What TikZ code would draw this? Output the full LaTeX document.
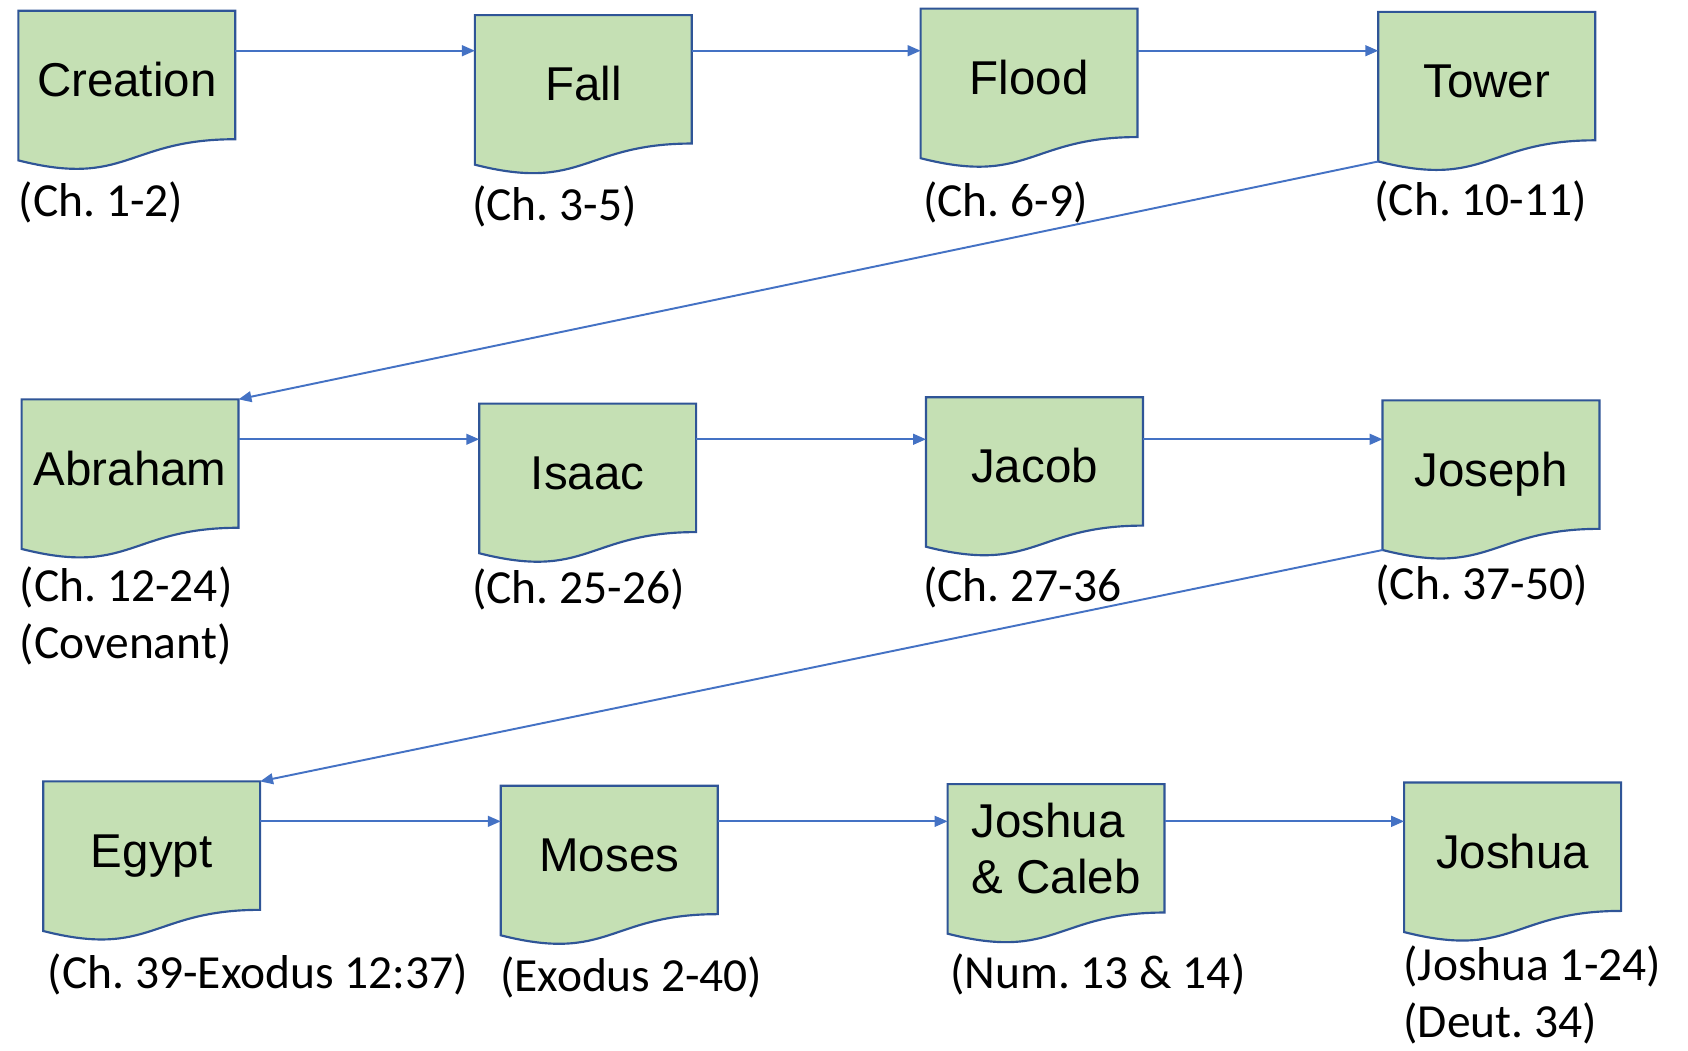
\documentclass[tikz,border=0pt]{standalone}
\usepackage{fontspec}
\setmainfont{Liberation Sans}
\newfontfamily\chapfont{Carlito}
\frenchspacing
\usetikzlibrary{arrows.meta,backgrounds}
\definecolor{docgreen}{HTML}{C5E0B4}
\definecolor{docblue}{HTML}{2F5597}
\definecolor{flowblue}{HTML}{4472C4}
\tikzset{
  doctwo/.style={minimum width=100.5pt, minimum height=59.5pt, inner sep=0pt, outer sep=0pt,
    align=left, font=\fontsize{22}{26}\selectfont},
  doc/.style={doctwo, text height=20pt, text depth=0pt},
  chap/.style={anchor=west, inner sep=0pt, align=left, font=\chapfont\fontsize{22}{26.5}\selectfont},
  flow/.style={-{Triangle[length=6pt,width=5pt]}, flowblue, line width=0.9pt},
  docline/.style={draw=docblue, fill=docgreen, line width=1pt},
}
\begin{document}
\begin{tikzpicture}[x=0.5pt, y=-0.5pt]
    \useasboundingbox (0,0) rectangle (1564,973);

    % row 1
    \node [doc] (creation) at (117.5, 69.5) {Creation};
    \node [doc] (fall) at (540.5, 73.5) {Fall};
    \node [doc] (flood) at (953.5, 67.5) {Flood};
    \node [doc] (tower) at (1377.5, 70.5) {Tower};
    \node [chap] (creationch) at (17, 188) {(Ch. 1-2)};
    \node [chap] (fallch) at (437, 191) {(Ch. 3-5)};
    \node [chap] (floodch) at (855, 188) {(Ch. 6-9)};
    \node [chap] (towerch) at (1273, 187) {(Ch. 10-11)};

    % row 2
    \node [doc] (abraham) at (120.5, 429.5) {Abraham};
    \node [doc] (isaac) at (544.5, 433.5) {Isaac};
    \node [doc] (jacob) at (958.5, 427.5) {Jacob};
    \node [doc] (joseph) at (1381.5, 430.5) {Joseph};
    \node [chap] (abrahamch) at (18, 570.5) {(Ch. 12-24)\\(Covenant)};
    \node [chap] (isaacch) at (437, 546) {(Ch. 25-26)};
    \node [chap] (jacobch) at (855, 544) {(Ch. 27-36};
    \node [chap] (josephch) at (1274, 542) {(Ch. 37-50)};

    % row 3
    \node [doc] (egypt) at (140.5, 783.5) {Egypt};
    \node [doc] (moses) at (564.5, 787.5) {Moses};
    \node [doctwo] (caleb) at (978.5, 786) {Joshua\\\& Caleb};
    \node [doc] (joshua) at (1401.5, 784.5) {Joshua};
    \node [chap] (egyptch) at (44, 903) {(Ch. 39-Exodus 12:37)};
    \node [chap] (mosesch) at (463, 906) {(Exodus 2-40)};
    \node [chap] (calebch) at (880, 903) {(Num. 13 \& 14)};
    \node [chap] (joshuach) at (1300, 922) {(Joshua 1-24)\\(Deut. 34)};

    % document outlines behind the texts
    \begin{scope}[on background layer]
        \foreach \n in {creation, fall, flood, tower, abraham, isaac, jacob, joseph, egypt, moses, caleb, joshua}
            \path [docline] (\n.north west) -- (\n.north east) -- (\n.south east)
                .. controls (\n.south) and ([yshift=-22.6pt]\n.south) .. ([yshift=-9.8pt]\n.south west) -- cycle;
    \end{scope}

    % connectors
    \coordinate (row1) at (0, 47);
    \coordinate (row2) at (0, 407);
    \coordinate (row3) at (0, 761);
    \foreach \a/\b in {creation/fall, fall/flood, flood/tower}
        \draw [flow] (\a.east |- row1) -- (\b.west |- row1);
    \foreach \a/\b in {abraham/isaac, isaac/jacob, jacob/joseph}
        \draw [flow] (\a.east |- row2) -- (\b.west |- row2);
    \foreach \a/\b in {egypt/moses, moses/caleb, caleb/joshua}
        \draw [flow] (\a.east |- row3) -- (\b.west |- row3);
    \draw [flow] ([yshift=-9.8pt]tower.south west) -- (abraham.north east);
    \draw [flow] ([yshift=-9.8pt]joseph.south west) -- (egypt.north east);
\end{tikzpicture}
\end{document}
